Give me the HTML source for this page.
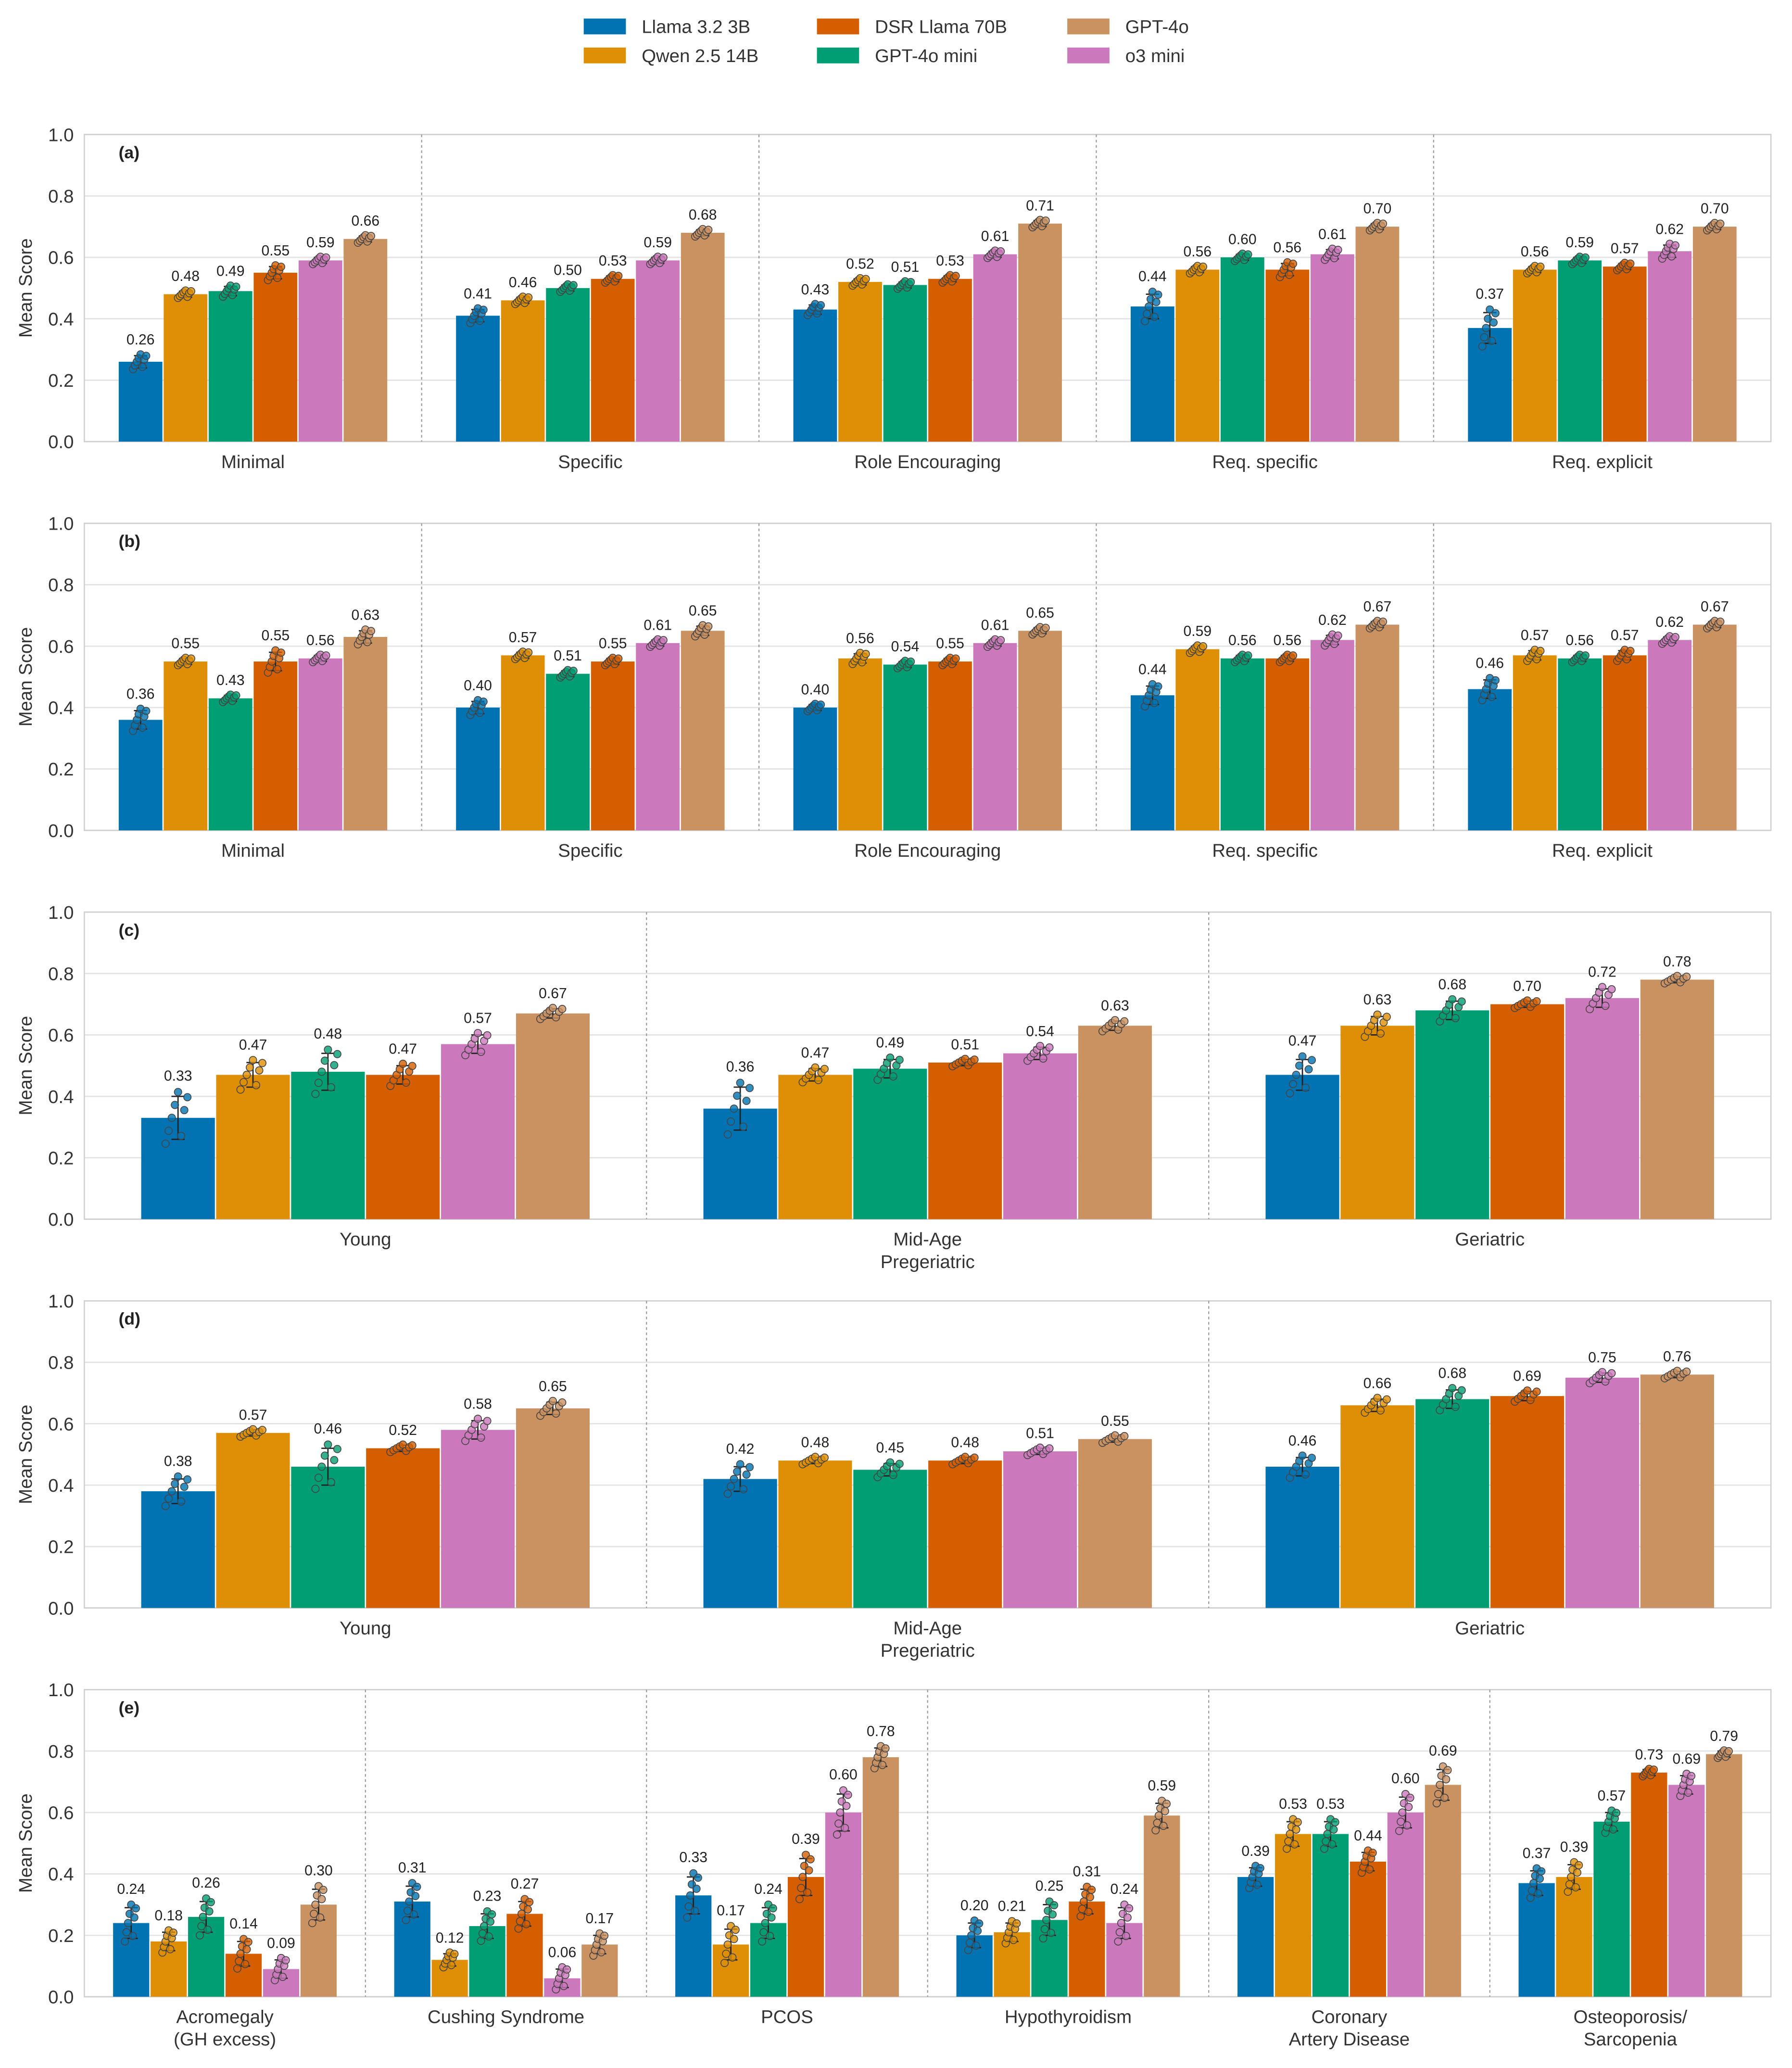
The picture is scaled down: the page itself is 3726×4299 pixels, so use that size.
<!DOCTYPE html>
<html><head><meta charset="utf-8"><style>
html,body{margin:0;padding:0;background:#fff;}
svg{display:block;font-family:"Liberation Sans",sans-serif;}
</style></head><body>
<svg id="chart" width="3726" height="4299" viewBox="0 0 1360 1569" xmlns="http://www.w3.org/2000/svg">
<rect x="0" y="0" width="1360" height="1569" fill="#fff"/>
<g id="legend"></g>
<g id="panels"></g>
</svg>
<script>
const models = ["Llama 3.2 3B","Qwen 2.5 14B","GPT-4o mini","DSR Llama 70B","o3 mini","GPT-4o"];
const colors = ["#0173b2","#de8f05","#029e73","#d55e00","#cc78bc","#ca9161"];
const yTicks = [0,0.2,0.4,0.6,0.8,1.0];
const tickLabels = ["0.0","0.2","0.4","0.6","0.8","1.0"];

const catsPrompt = [["Minimal"],["Specific"],["Role Encouraging"],["Req. specific"],["Req. explicit"]];
const catsAge = [["Young"],["Mid-Age","Pregeriatric"],["Geriatric"]];
const catsDisease = [["Acromegaly","(GH excess)"],["Cushing Syndrome"],["PCOS"],["Hypothyroidism"],["Coronary","Artery Disease"],["Osteoporosis/","Sarcopenia"]];

const valuesA = [[.26,.48,.49,.55,.59,.66],[.41,.46,.50,.53,.59,.68],[.43,.52,.51,.53,.61,.71],[.44,.56,.60,.56,.61,.70],[.37,.56,.59,.57,.62,.70]];
const errA = [[.02,.01,.015,.02,.01,.01],[.02,.01,.01,.01,.01,.01],[.015,.01,.01,.01,.01,.01],[.04,.01,.01,.02,.015,.01],[.05,.01,.01,.01,.02,.01]];
const valuesB = [[.36,.55,.43,.55,.56,.63],[.40,.57,.51,.55,.61,.65],[.40,.56,.54,.55,.61,.65],[.44,.59,.56,.56,.62,.67],[.46,.57,.56,.57,.62,.67]];
const errB = [[.03,.01,.01,.03,.01,.02],[.02,.01,.01,.01,.01,.015],[.01,.015,.01,.01,.01,.01],[.03,.01,.01,.01,.015,.01],[.03,.015,.01,.015,.01,.01]];
const valuesC = [[.33,.47,.48,.47,.57,.67],[.36,.47,.49,.51,.54,.63],[.47,.63,.68,.70,.72,.78]];
const errC = [[.07,.04,.06,.03,.03,.015],[.07,.02,.03,.01,.02,.015],[.05,.03,.03,.01,.03,.01]];
const valuesD = [[.38,.57,.46,.52,.58,.65],[.42,.48,.45,.48,.51,.55],[.46,.66,.68,.69,.75,.76]];
const errD = [[.04,.01,.06,.01,.03,.02],[.04,.01,.02,.01,.01,.01],[.03,.02,.03,.015,.015,.01]];
const valuesE = [[.24,.18,.26,.14,.09,.30],[.31,.12,.23,.27,.06,.17],[.33,.17,.24,.39,.60,.78],[.20,.21,.25,.31,.24,.59],[.39,.53,.53,.44,.60,.69],[.37,.39,.57,.73,.69,.79]];
const errE = [[.05,.03,.05,.04,.03,.05],[.05,.02,.04,.04,.03,.03],[.06,.05,.05,.06,.06,.03],[.04,.03,.05,.04,.05,.04],[.03,.04,.04,.03,.05,.05],[.04,.04,.03,.01,.03,.01]];

const NS = "http://www.w3.org/2000/svg";
function mk(tag, attrs, parent){ const e=document.createElementNS(NS,tag); for(const k in attrs) e.setAttribute(k,attrs[k]); parent.appendChild(e); return e; }

// legend
const leg = document.getElementById('legend');
const legOrder = [0,1,3,2,5,4];
const legPos = [[443,20],[443,42],[620,20],[620,42],[810,20],[810,42]];
legOrder.forEach((m,i)=>{
  const g = mk('g',{},leg);
  
  
  mk('rect',{x:legPos[i][0],y:legPos[i][1]-6,width:32,height:12,fill:colors[m]},g);
  const t = mk('text',{x:legPos[i][0]+44,y:legPos[i][1]+5,'font-size':14,fill:'#333'},g);
  t.textContent = models[m];
});

const panels = [
  {label:"(a)",top:102,cats:catsPrompt,vals:valuesA,err:errA,name:"panel-a"},
  {label:"(b)",top:397,cats:catsPrompt,vals:valuesB,err:errB,name:"panel-b"},
  {label:"(c)",top:692,cats:catsAge,vals:valuesC,err:errC,name:"panel-c"},
  {label:"(d)",top:987,cats:catsAge,vals:valuesD,err:errD,name:"panel-d"},
  {label:"(e)",top:1282,cats:catsDisease,vals:valuesE,err:errE,name:"panel-e"}
];
const X0=64, X1=1344, H=233;
const root = document.getElementById('panels');
panels.forEach(p=>{
  const g = mk('g',{},root);
  
  
  const y = v => p.top + H - v*H;
  // grid & ticks
  yTicks.forEach((t,i)=>{
    mk('line',{x1:X0,x2:X1,y1:y(t),y2:y(t),stroke:'#e3e3e3','stroke-width':1},g);
    const tl = mk('text',{x:X0-8,y:y(t)+5,'font-size':14,'text-anchor':'end',fill:'#333'},g);
    
    
    tl.textContent = tickLabels[i];
  });
  mk('rect',{x:X0,y:p.top,width:X1-X0,height:H,fill:'none',stroke:'#d0d0d0','stroke-width':1},g);
  const yt = mk('text',{x:0,y:0,'font-size':14,'text-anchor':'middle',fill:'#333',transform:`translate(24,${p.top+H/2}) rotate(-90)`},g);
  
  
  yt.textContent = "Mean Score";
  const pl = mk('text',{x:90,y:p.top+18,'font-size':13,'font-weight':'bold',fill:'#222'},g);
  
  
  pl.textContent = p.label;
  const n = p.cats.length, gw=(X1-X0)/n, bw=gw*0.8/6;
  for(let c=1;c<n;c++) mk('line',{x1:X0+c*gw,x2:X0+c*gw,y1:p.top,y2:p.top+H,stroke:'#999','stroke-width':0.8,'stroke-dasharray':'2,2'},g);
  p.cats.forEach((cat,ci)=>{
    const gx = X0+ci*gw+gw*0.1;
    cat.forEach((line,li)=>{
      const ct = mk('text',{x:X0+ci*gw+gw/2,y:p.top+H+20+li*17,'font-size':14,'text-anchor':'middle',fill:'#333'},g);
      
      
      ct.textContent = line;
    });
    p.vals[ci].forEach((v,m)=>{
      const e = p.err[ci][m];
      const bx = gx+m*bw, cx=bx+bw/2;
      const r = mk('rect',{x:bx+0.5,y:y(v),width:bw-1,height:v*H,fill:colors[m]},g);
      
      
      mk('line',{x1:cx,x2:cx,y1:y(v+e),y2:y(Math.max(0,v-e)),stroke:'#222','stroke-width':1},g);
      mk('line',{x1:cx-5,x2:cx+5,y1:y(v+e),y2:y(v+e),stroke:'#222','stroke-width':1},g);
      mk('line',{x1:cx-5,x2:cx+5,y1:y(Math.max(0,v-e)),y2:y(Math.max(0,v-e)),stroke:'#222','stroke-width':1},g);
      const offs=[-1,-0.5,0,0.5,1,-0.7,0.3,0.8];
      offs.forEach((o,k)=>{
        const dv = v + o*e*1.2;
        mk('circle',{cx:cx+((k*37)%9-4)*bw/24,cy:y(Math.max(0,dv)),r:2.8,fill:colors[m],stroke:'#444','stroke-width':0.6,'fill-opacity':0.8},g);
      });
      const vl = mk('text',{x:cx,y:y(v+e*1.3)-7,'font-size':11,'text-anchor':'middle',fill:'#222'},g);
      
      
      vl.textContent = v.toFixed(2);
    });
  });
});
</script>
</body></html>
